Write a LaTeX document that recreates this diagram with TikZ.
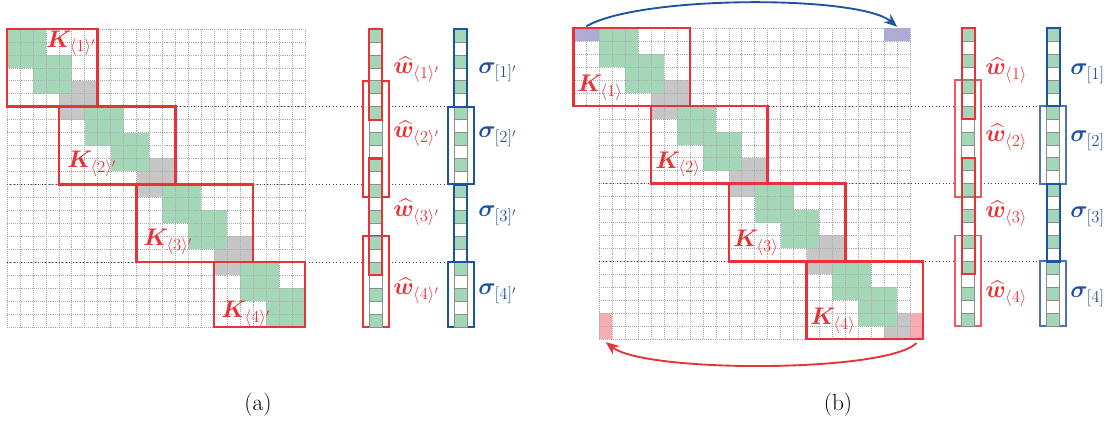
\RequirePackage{fix-cm}
\documentclass[tikz,border=0pt]{standalone}
\usepackage{amsmath,bm}
\usetikzlibrary{arrows.meta}
\definecolor{kred}{RGB}{232,50,56}
\definecolor{kblue}{RGB}{28,84,160}
\definecolor{cgreen}{RGB}{163,215,183}
\definecolor{cgray}{RGB}{198,198,198}
\definecolor{cpurple}{RGB}{172,172,214}
\definecolor{cpink}{RGB}{246,172,178}
\tikzset{
  gridl/.style={draw=black!32, line width=0.45pt, densely dotted},
  sepl/.style={draw=black!75, line width=0.6pt, dotted},
  vecl/.style={draw=black!45, line width=0.5pt},
  kbox/.style={draw=kred, line width=1.8pt},
  narrowred/.style={draw=kred, line width=1.7pt},
  widered/.style={draw=kred, line width=1.4pt, fill=white},
  narrowblue/.style={draw=kblue, line width=1.7pt},
  wideblue/.style={draw=kblue, line width=1.4pt, fill=white},
  klab/.style={text=kred, inner sep=0pt, font=\fontsize{18}{21}\selectfont},
  wlab/.style={text=kred, inner sep=0pt, font=\fontsize{18}{21}\selectfont},
  slab/.style={text=kblue, inner sep=0pt, font=\fontsize{18}{21}\selectfont},
  caplab/.style={inner sep=0pt, font=\fontsize{17.5}{21}\selectfont},
  arcarrow/.style={line width=1.4pt, -{Stealth[length=10pt,width=8pt]}}
}
\begin{document}
\begin{tikzpicture}[x=0.75pt,y=-0.75pt]
\useasboundingbox (0,0) rectangle (1107,423);
\def\cs{12.95}
% ================= panel (a) =================
\def\ax{7}\def\ay{29}
\foreach \r/\a/\b in {0/0/2,1/0/2,2/0/4,3/2/4,4/2/4,6/6/8,7/6/8,8/6/10,9/8/10,10/8/10,12/12/14,13/12/14,14/12/16,15/14/16,16/14/16,18/18/20,19/18/20,20/18/22,21/20/22,22/20/22}
  \fill[cgreen] ({\ax+\a*\cs},{\ay+\r*\cs}) rectangle ({\ax+(\b+1)*\cs},{\ay+(\r+1)*\cs});
\foreach \r/\a/\b in {4/5/6,5/4/6,6/4/5,10/11/12,11/10/12,12/10/11,16/17/18,17/16/18,18/16/17}
  \fill[cgray] ({\ax+\a*\cs},{\ay+\r*\cs}) rectangle ({\ax+(\b+1)*\cs},{\ay+(\r+1)*\cs});
\foreach \i in {0,...,23}{
  \draw[gridl] ({\ax+\i*\cs},\ay) -- ({\ax+\i*\cs},{\ay+23*\cs});
  \draw[gridl] (\ax,{\ay+\i*\cs}) -- ({\ax+23*\cs},{\ay+\i*\cs});
}
% separators
\foreach \r in {6,12,18}
  \draw[sepl] (\ax,{\ay+\r*\cs}) -- (447.8,{\ay+\r*\cs});
% K boxes
\draw[kbox] ({\ax+0*\cs},{\ay+0*\cs}) rectangle ({\ax+7*\cs},{\ay+6*\cs});
\draw[kbox] ({\ax+4*\cs},{\ay+6*\cs}) rectangle ({\ax+13*\cs},{\ay+12*\cs});
\draw[kbox] ({\ax+10*\cs},{\ay+12*\cs}) rectangle ({\ax+19*\cs},{\ay+18*\cs});
\draw[kbox] ({\ax+16*\cs},{\ay+18*\cs}) rectangle ({\ax+23*\cs},{\ay+23*\cs});
\node[klab, anchor=base east] (Ka1) at (96,47.5) {$\bm{K}_{\langle 1\rangle'}$};
\node[klab, anchor=base west] (Ka2) at (67,168) {$\bm{K}_{\langle 2\rangle'}$};
\node[klab, anchor=base west] (Ka3) at (143,245.7) {$\bm{K}_{\langle 3\rangle'}$};
\node[klab, anchor=base west] (Ka4) at (221,317.7) {$\bm{K}_{\langle 4\rangle'}$};
% vectors (a)
\def\wx{369.3}\def\sx{454.3}
\draw[widered] ({\wx-0.5*\cs},{\ay+4*\cs}) rectangle ({\wx+1.5*\cs},{\ay+13*\cs});
\draw[widered] ({\wx-0.5*\cs},{\ay+16*\cs}) rectangle ({\wx+1.5*\cs},{\ay+23*\cs});
\draw[wideblue] ({\sx-0.5*\cs},{\ay+6*\cs}) rectangle ({\sx+1.5*\cs},{\ay+12*\cs});
\draw[wideblue] ({\sx-0.5*\cs},{\ay+18*\cs}) rectangle ({\sx+1.5*\cs},{\ay+23*\cs});
\foreach \vx in {\wx,\sx}{
  \foreach \i in {0,2,...,22}
    \fill[cgreen] (\vx,{\ay+\i*\cs}) rectangle ({\vx+\cs},{\ay+(\i+1)*\cs});
  \foreach \i in {1,...,22}
    \draw[vecl] (\vx,{\ay+\i*\cs}) -- ({\vx+\cs},{\ay+\i*\cs});
  \draw[vecl] (\vx,\ay) rectangle ({\vx+\cs},{\ay+23*\cs});
}
\draw[narrowred] (\wx,{\ay+0*\cs}) rectangle ({\wx+\cs},{\ay+7*\cs});
\draw[narrowred] (\wx,{\ay+10*\cs}) rectangle ({\wx+\cs},{\ay+19*\cs});
\draw[narrowblue] (\sx,{\ay+0*\cs}) rectangle ({\sx+\cs},{\ay+6*\cs});
\draw[narrowblue] (\sx,{\ay+12*\cs}) rectangle ({\sx+\cs},{\ay+18*\cs});
\node[wlab, anchor=base west] (wa1) at (393,74) {$\widehat{\bm{w}}_{\langle 1\rangle'}$};
\node[wlab, anchor=base west] (wa2) at (393,138) {$\widehat{\bm{w}}_{\langle 2\rangle'}$};
\node[wlab, anchor=base west] (wa3) at (393,216.7) {$\widehat{\bm{w}}_{\langle 3\rangle'}$};
\node[wlab, anchor=base west] (wa4) at (393,295) {$\widehat{\bm{w}}_{\langle 4\rangle'}$};
\node[slab, anchor=base west] (sa1) at (478,73.5) {$\bm{\sigma}_{[1]'}$};
\node[slab, anchor=base west] (sa2) at (478,138) {$\bm{\sigma}_{[2]'}$};
\node[slab, anchor=base west] (sa3) at (478,216.7) {$\bm{\sigma}_{[3]'}$};
\node[slab, anchor=base west] (sa4) at (478,295) {$\bm{\sigma}_{[4]'}$};
% ================= panel (b) =================
\def\bx{599.3}\def\by{28.3}
\foreach \r/\a/\b in {0/0/2,1/0/2,2/0/4,3/2/4,4/2/4,6/6/8,7/6/8,8/6/10,9/8/10,10/8/10,12/12/14,13/12/14,14/12/16,15/14/16,16/14/16,18/18/20,19/18/20,20/18/22,21/20/22,22/20/22}
  \fill[cgreen] ({\bx+\a*\cs},{\by+\r*\cs}) rectangle ({\bx+(\b+1)*\cs},{\by+(\r+1)*\cs});
\foreach \r/\a/\b in {4/5/6,5/4/6,6/4/5,10/11/12,11/10/12,12/10/11,16/17/18,17/16/18,18/16/17,22/23/23,23/22/23}
  \fill[cgray] ({\bx+\a*\cs},{\by+\r*\cs}) rectangle ({\bx+(\b+1)*\cs},{\by+(\r+1)*\cs});
\foreach \r/\a/\b in {0/-2/-1,0/22/23}
  \fill[cpurple] ({\bx+\a*\cs},{\by+\r*\cs}) rectangle ({\bx+(\b+1)*\cs},{\by+(\r+1)*\cs});
\foreach \r/\a/\b in {22/24/24,23/24/24,22/0/0,23/0/0}
  \fill[cpink] ({\bx+\a*\cs},{\by+\r*\cs}) rectangle ({\bx+(\b+1)*\cs},{\by+(\r+1)*\cs});
\foreach \i in {-2,-1}
  \draw[gridl] ({\bx+\i*\cs},\by) -- ({\bx+\i*\cs},{\by+6*\cs});
\foreach \i in {0,...,24}
  \draw[gridl] ({\bx+\i*\cs},\by) -- ({\bx+\i*\cs},{\by+24*\cs});
\foreach \j in {0,...,6}
  \draw[gridl] ({\bx-2*\cs},{\by+\j*\cs}) -- ({\bx+24*\cs},{\by+\j*\cs});
\foreach \j in {7,...,24}
  \draw[gridl] (\bx,{\by+\j*\cs}) -- ({\bx+24*\cs},{\by+\j*\cs});
\draw[gridl] ({\bx+24*\cs},{\by+23*\cs}) -- ({\bx+25*\cs},{\by+23*\cs});
\foreach \r in {6,12,18}
  \draw[sepl] (\bx,{\by+\r*\cs}) -- (1040.2,{\by+\r*\cs});
\draw[kbox] ({\bx-2*\cs},{\by+0*\cs}) rectangle ({\bx+7*\cs},{\by+6*\cs});
\draw[kbox] ({\bx+4*\cs},{\by+6*\cs}) rectangle ({\bx+13*\cs},{\by+12*\cs});
\draw[kbox] ({\bx+10*\cs},{\by+12*\cs}) rectangle ({\bx+19*\cs},{\by+18*\cs});
\draw[kbox] ({\bx+16*\cs},{\by+18*\cs}) rectangle ({\bx+25*\cs},{\by+24*\cs});
\node[klab, anchor=base west] (Kb1) at (577,91.7) {$\bm{K}_{\langle 1\rangle}$};
\node[klab, anchor=base west] (Kb2) at (655,168.3) {$\bm{K}_{\langle 2\rangle}$};
\node[klab, anchor=base west] (Kb3) at (733,246.7) {$\bm{K}_{\langle 3\rangle}$};
\node[klab, anchor=base west] (Kb4) at (810,325) {$\bm{K}_{\langle 4\rangle}$};
% arrows
\coordinate (pl) at ({\bx-1*\cs},{\by-2});
\coordinate (pr) at ({\bx+23*\cs},{\by-1.5});
\coordinate (kl) at ({\bx+0.5*\cs},{\by+24*\cs+3});
\coordinate (kr) at ({\bx+24.5*\cs},{\by+24*\cs+4});
\draw[kblue, arcarrow] (pl) .. controls (640,-5) and (860,-5) .. (pr);
\draw[kred, arcarrow] (kr) .. controls (885,373) and (645,373) .. (kl);
% vectors (b)
\def\wbx{961.7}\def\sbx{1046.7}
\draw[widered, draw opacity=0.8] ({\wbx-0.5*\cs},{\by+4*\cs}) rectangle ({\wbx+1.5*\cs},{\by+13*\cs});
\draw[widered, draw opacity=0.8] ({\wbx-0.5*\cs},{\by+16*\cs}) rectangle ({\wbx+1.5*\cs},{\by+23*\cs});
\draw[wideblue, draw opacity=0.8] ({\sbx-0.5*\cs},{\by+6*\cs}) rectangle ({\sbx+1.5*\cs},{\by+12*\cs});
\draw[wideblue, draw opacity=0.8] ({\sbx-0.5*\cs},{\by+18*\cs}) rectangle ({\sbx+1.5*\cs},{\by+23*\cs});
\foreach \vx in {\wbx,\sbx}{
  \foreach \i in {0,2,...,22}
    \fill[cgreen] (\vx,{\by+\i*\cs}) rectangle ({\vx+\cs},{\by+(\i+1)*\cs});
  \foreach \i in {1,...,22}
    \draw[vecl] (\vx,{\by+\i*\cs}) -- ({\vx+\cs},{\by+\i*\cs});
  \draw[vecl] (\vx,\by) rectangle ({\vx+\cs},{\by+23*\cs});
}
\draw[narrowred] (\wbx,{\by+0*\cs}) rectangle ({\wbx+\cs},{\by+7*\cs});
\draw[narrowred] (\wbx,{\by+10*\cs}) rectangle ({\wbx+\cs},{\by+19*\cs});
\draw[narrowblue] (\sbx,{\by+0*\cs}) rectangle ({\sbx+\cs},{\by+6*\cs});
\draw[narrowblue] (\sbx,{\by+12*\cs}) rectangle ({\sbx+\cs},{\by+18*\cs});
\node[wlab, anchor=base west] (wb1) at (985,75) {$\widehat{\bm{w}}_{\langle 1\rangle}$};
\node[wlab, anchor=base west] (wb2) at (985,141.7) {$\widehat{\bm{w}}_{\langle 2\rangle}$};
\node[wlab, anchor=base west] (wb3) at (985,218) {$\widehat{\bm{w}}_{\langle 3\rangle}$};
\node[wlab, anchor=base west] (wb4) at (985,298) {$\widehat{\bm{w}}_{\langle 4\rangle}$};
\node[slab, anchor=base west] (sb1) at (1070,75) {$\bm{\sigma}_{[1]}$};
\node[slab, anchor=base west] (sb2) at (1070,141.7) {$\bm{\sigma}_{[2]}$};
\node[slab, anchor=base west] (sb3) at (1070,218) {$\bm{\sigma}_{[3]}$};
\node[slab, anchor=base west] (sb4) at (1070,298) {$\bm{\sigma}_{[4]}$};
% captions
\node[caplab] (capa) at (258,405) {(a)};
\node[caplab] (capb) at (838,405) {(b)};
\end{tikzpicture}
\end{document}
